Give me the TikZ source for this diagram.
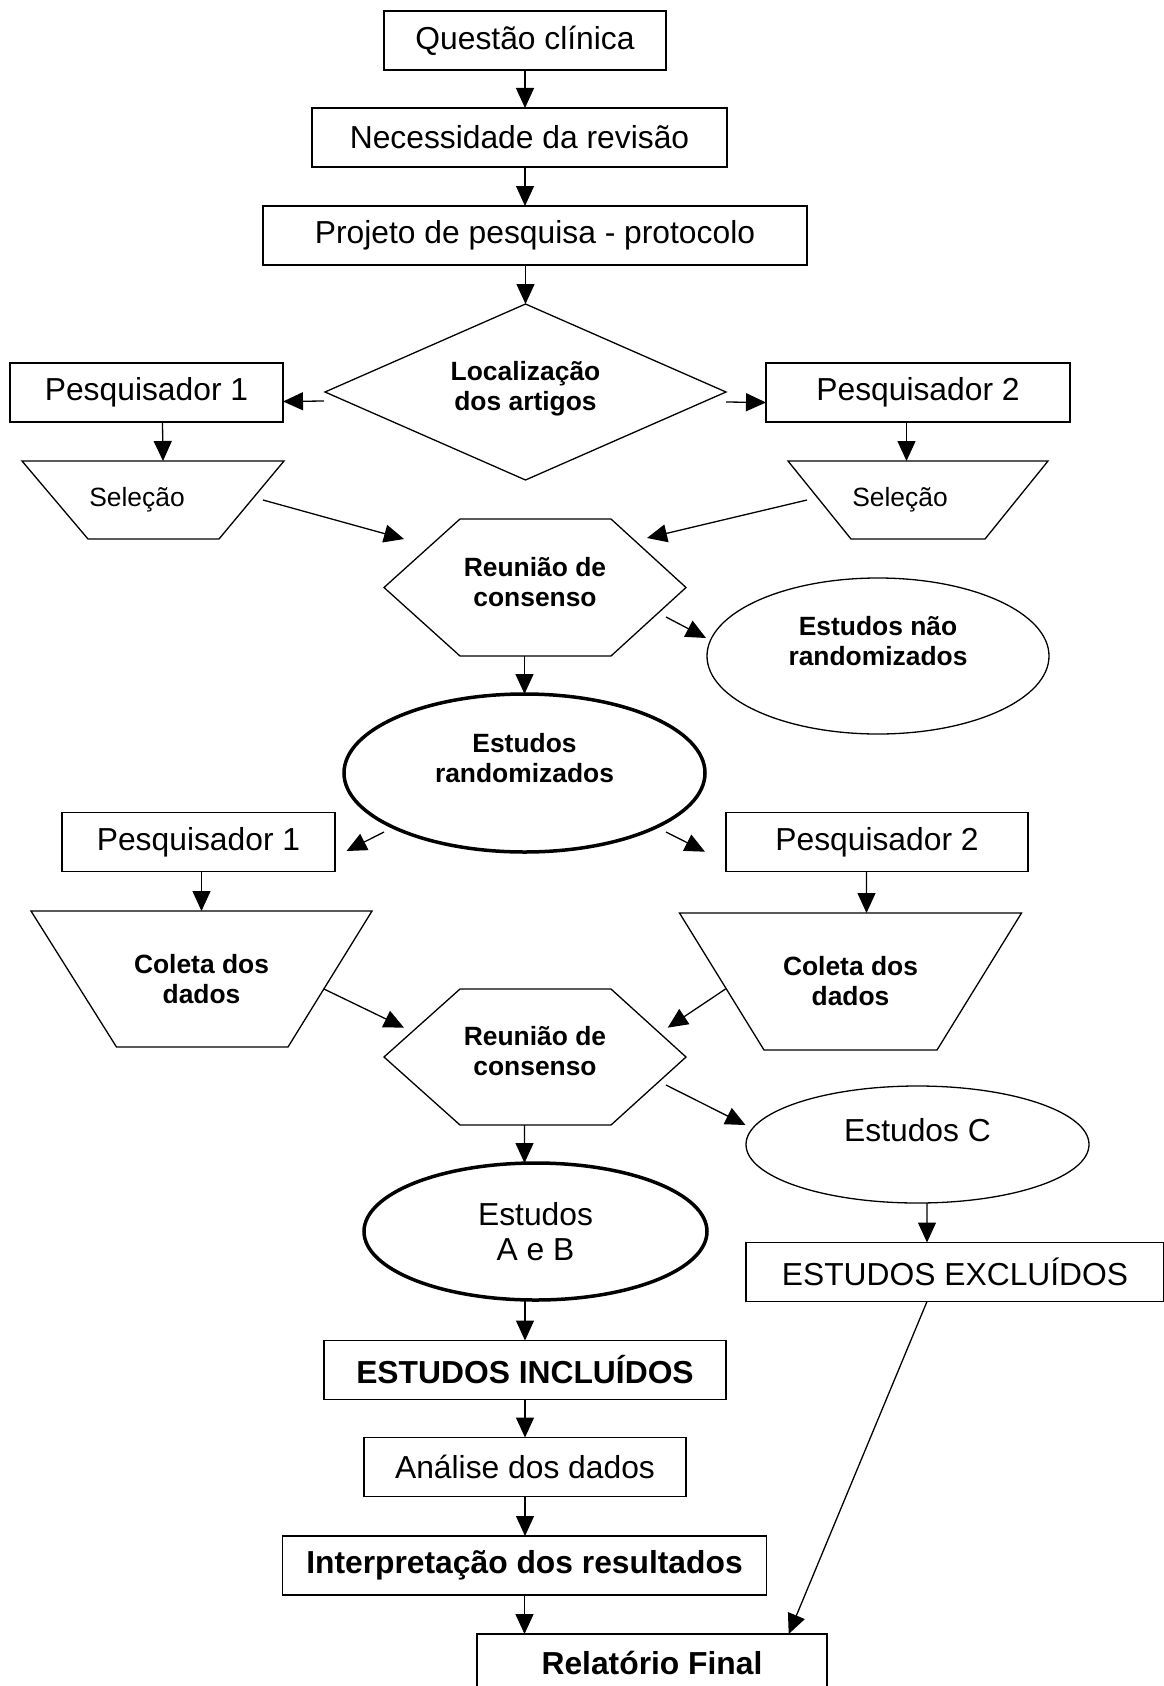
\documentclass[tikz,border=0pt]{standalone}
\usepackage{fontspec}
\setmainfont{Liberation Sans}
\usetikzlibrary{arrows.meta,shapes.geometric,calc}

% outline drawn round an invisible node
\newcommand{\hexa}[1]{\draw ([xshift=76bp]#1.north west) -- ([xshift=-75bp]#1.north east) -- (#1.east)
  -- ([xshift=-75bp]#1.south east) -- ([xshift=76bp]#1.south west) -- (#1.west) -- cycle;}
\newcommand{\trap}[3]{\draw (#1.north west) -- (#1.north east) -- ([xshift=-#3]#1.south east)
  -- ([xshift=#2]#1.south west) -- cycle;}

\begin{document}
\begin{tikzpicture}[x=1bp, y=-1bp, line width=1.3bp,
    >={Triangle[length=20bp,width=18bp]},
    txt/.style={font=\fontsize{31.8bp}{35bp}\selectfont},
    txtb/.style={font=\fontsize{31.8bp}{35bp}\selectfont\bfseries},
    small/.style={font=\fontsize{26.4bp}{30bp}\selectfont},
    smallb/.style={font=\fontsize{26.4bp}{30bp}\selectfont\bfseries},
    box/.style={draw, rectangle, inner sep=0, outer sep=0, minimum height=59bp},
    plain/.style={rectangle, inner sep=0, outer sep=0},
    oval/.style={draw, ellipse, inner sep=0, outer sep=0, align=center},
    rhomb/.style={draw, diamond, aspect=2.3, inner sep=0, outer sep=0, align=center}]
\useasboundingbox (0,0) rectangle (1163,1686);

% upper part
\node[box, txt, minimum width=282bp] (q) at (525,40.5) {Questão clínica};
\node[box, txt, minimum width=415bp] (n) at (519.5,137.5) {Necessidade da revisão};
\node[box, txt, minimum width=544bp] (p) at (535,235.5) {Projeto de pesquisa - protocolo};
\node[rhomb, smallb, minimum width=401bp, minimum height=176bp] (d) at (525.5,392)
    {Localização\\dos artigos\\[-18bp]\mbox{}};
\node[box, txt, minimum width=273bp] (p1) at (146.5,392.5) {Pesquisador 1};
\node[box, txt, minimum width=304bp] (p2) at (918,392.5) {Pesquisador 2};
\node[plain, small, minimum width=262bp, minimum height=78bp] (s1) at (153,500) {Seleção\kern32bp\relax};
\node[plain, small, minimum width=260bp, minimum height=78bp] (s2) at (918,500) {Seleção\kern36bp\relax};
\trap{s1}{66bp}{65bp}
\trap{s2}{63bp}{63bp}
\node[plain, smallb, align=center, minimum width=302bp, minimum height=137bp] (h1) at (535,587.5)
    {Reunião de\\consenso\\[-18bp]\mbox{}};
\hexa{h1}
\node[oval, smallb, minimum width=342bp, minimum height=156bp] (e1) at (878,656)
    {Estudos não\\randomizados\\\mbox{}};
\node[oval, smallb, line width=3.5bp, minimum width=361bp, minimum height=158bp] (e2) at (524.5,773)
    {Estudos\\randomizados\\\mbox{}};

% lower part
\node[box, txt, minimum width=273bp] (p3) at (198.5,842) {Pesquisador 1};
\node[box, txt, minimum width=302bp] (p4) at (877,842) {Pesquisador 2};
\node[plain, smallb, align=center, minimum width=341bp, minimum height=136bp] (c1) at (201.5,979)
    {Coleta dos\\dados};
\node[plain, smallb, align=center, minimum width=342bp, minimum height=137bp] (c2) at (850.5,981.5)
    {Coleta dos\\dados};
\trap{c1}{85.5bp}{84bp}
\trap{c2}{84.5bp}{84.5bp}
\node[plain, smallb, align=center, minimum width=302bp, minimum height=136bp] (h2) at (535,1057)
    {Reunião de\\consenso\\[-18bp]\mbox{}};
\hexa{h2}
\node[oval, txt, minimum width=343bp, minimum height=117bp] (eC) at (917.5,1144.5)
    {Estudos C\\[-6bp]\mbox{}};
\node[oval, txt, line width=3.5bp, minimum width=343bp, minimum height=137bp] (eAB) at (535.5,1231.5)
    {Estudos\\A e B};
\node[box, txt, minimum width=418bp] (excl) at (955,1272) {ESTUDOS EXCLUÍDOS};
\node[box, txtb, minimum width=402bp] (incl) at (525,1370) {ESTUDOS INCLUÍDOS};
\node[box, txt, minimum width=322bp] (an) at (525,1467) {Análise dos dados};
\node[box, txtb, minimum width=484bp] (ip) at (524.5,1565.5) {Interpretação dos resultados};
\node[box, txtb, minimum width=350bp, minimum height=58bp] (rel) at (652,1663) {Relatório Final};

% connectors
\draw[->] (q.south) -- (q.south |- n.north);
\draw[->] (q.south |- n.south) -- (q.south |- p.north);
\draw[->] (p.south -| d.north) -- (d.north);
\draw[->] ($(d.west)+(-1,9)$) -- ($(p1.east)+(0,9)$);
\draw[->] ($(d.east)+(0,10)$) -- ($(p2.west)+(0,10)$);
\draw[->] ($(p1.south)+(16,0)$) -- ($(s1.north)+(10,0)$);
\draw[->] ($(p2.south)+(-11.5,0)$) -- ($(s2.north)+(-11.5,0)$);
\draw[->] ($(s1.east)+(-21,0)$) -- ($(h1.north west)+(20,20)$);
\draw[->] ($(s2.west)+(19,0)$) -- ($(h1.north east)+(-39,19)$);
\draw[->] ($(h1.east)+(-20,29.5)$) -- ($(e1.west)+(-1,-18)$);
\draw[->] (h1.south -| e2.north) -- (e2.north);
\draw[->] ($(e2.south)+(-140.5,-20)$) -- ($(p3.east)+(11.5,9)$);
\draw[->] ($(e2.south)+(141.5,-20)$) -- ($(p4.west)+(-21,9.7)$);
\draw[->] (p3.south -| c1.north) -- (c1.north);
\draw[->] ($(p4.south)+(-10.5,0)$) -- ($(c2.north)+(16,0)$);
\draw[->] ($(c1.east)+(-48,10)$) -- ($(h2.north west)+(20,38.7)$);
\draw[->] ($(c2.west)+(46,7.5)$) -- ($(h2.north east)+(-18.3,38.7)$);
\draw[->] ($(h2.east)+(-20,28)$) -- ($(eC.west)+(-0.5,-19.5)$);
\draw[->] ($(h2.south)+(-10.5,0)$) -- ($(eAB.north)+(-11,0)$);
\draw[->] ($(eC.south)+(9.5,0)$) -- ($(excl.north)+(-28,0)$);
\draw[->] (eAB.south -| incl.north) -- (incl.north);
\draw[->] (incl.south) -- (incl.south |- an.north);
\draw[->] (an.south) -- (an.south |- ip.north);
\draw[->] (ip.south) -- (ip.south |- rel.north);
\draw[->] ($(excl.south)+(-28,0)$) -- ($(rel.north east)+(-38.3,0)$);
\end{tikzpicture}
\end{document}
